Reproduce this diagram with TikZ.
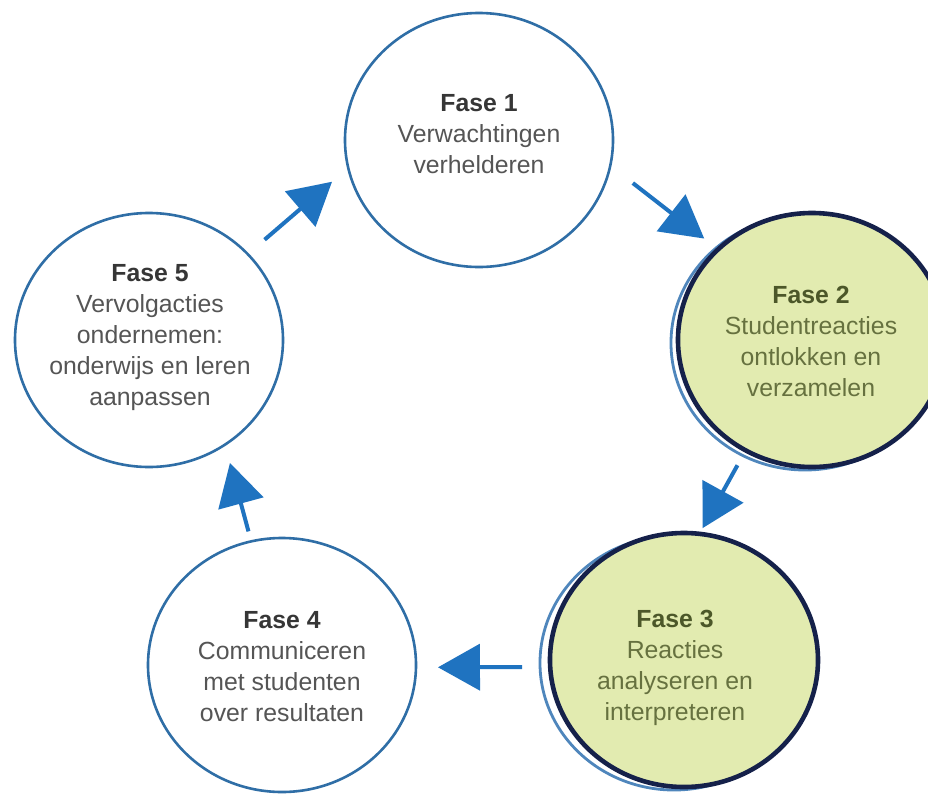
\documentclass[tikz,border=0pt]{standalone}
\usepackage{fontspec}
\setmainfont{Liberation Sans}
\usetikzlibrary{arrows.meta}
\usetikzlibrary{positioning}
\usetikzlibrary{calc}
\usetikzlibrary{shapes.geometric}

\definecolor{ringblue}{HTML}{2F6EA6}
\definecolor{shadeblue}{HTML}{4F86BC}
\definecolor{arrowblue}{HTML}{1F73C0}
\definecolor{phasegreen}{HTML}{E2EBB0}
\definecolor{ringnavy}{HTML}{15214A}
\definecolor{textgray}{HTML}{555555}
\definecolor{titlegray}{HTML}{363636}
\definecolor{textolive}{HTML}{66713F}
\definecolor{titleolive}{HTML}{4C5729}

\begin{document}
\begin{tikzpicture}[x = 0.5pt, y = -0.5pt,
    phase/.style = {ellipse, draw = ringblue, line width = 1.3pt, fill = white, minimum width = 134pt, minimum height = 127pt, inner sep = 0, outer sep = 0},
    phase green/.style = {phase, draw = ringnavy, line width = 2.3pt, fill = phasegreen},
    phase ring/.style = {phase, draw = shadeblue, line width = 1.4pt},
    phase text/.style = {align = center, inner sep = 0, text = textgray, font = \fontsize{12.4}{15.5}\selectfont},
    flow/.style = {draw = arrowblue, line width = 2pt, -{Triangle[length = 21pt, width = 23pt]}}]

        % page and background
        \clip (0,0) rectangle (928,794);
        \fill[white] (0,0) rectangle (928,794);

        % draw the phases
        \node[phase] (fase_1) at (479,140) {};
        \node[phase ring] (fase_2_ring) at (805,343) {};
        \node[phase green] (fase_2) at (812,340) {};
        \node[phase ring] (fase_3_ring) at (674,663) {};
        \node[phase green] (fase_3) at (684,660) {};
        \node[phase] (fase_4) at (282,665) {};
        \node[phase] (fase_5) at (149,340) {};

        % write the texts
        \node[phase text] (text_1) at ($(fase_1) + (0,-6)$) {\textcolor{titlegray}{\textbf{Fase 1}}\\Verwachtingen\\verhelderen};
        \node[phase text, text = textolive] (text_2) at ($(fase_2) + (-1,1)$) {\textcolor{titleolive}{\textbf{Fase 2}}\\Studentreacties\\ontlokken en\\verzamelen};
        \node[phase text, text = textolive] (text_3) at ($(fase_3) + (-9,8)$) {\textcolor{titleolive}{\textbf{Fase 3}}\\Reacties\\analyseren en\\interpreteren};
        \node[phase text] (text_4) at ($(fase_4) + (0,2)$) {\textcolor{titlegray}{\textbf{Fase 4}}\\Communiceren\\met studenten\\over resultaten};
        \node[phase text] (text_5) at ($(fase_5) + (1,-2)$) {\textcolor{titlegray}{\textbf{Fase 5}}\\Vervolgacties\\ondernemen:\\onderwijs en leren\\aanpassen};

        % draw the arrows
        \draw[flow, shorten <= 14.3pt, shorten >= 8.8pt] (fase_1.-11) -- (fase_2.136);
        \draw[flow, shorten <= 8.5pt, shorten >= 3.3pt] (fase_2.-121) -- (fase_3.83);
        \draw[flow, shorten <= 14.1pt, shorten >= 11pt] (fase_3.183) -- (fase_4.-1);
        \draw[flow, shorten <= 5.2pt, shorten >= 9.5pt] (fase_4.104) -- (fase_5.-54);
        \draw[flow, shorten <= 11.1pt, shorten >= 10.7pt] (fase_5.41) -- (fase_1.192);

      \end{tikzpicture}
\end{document}
